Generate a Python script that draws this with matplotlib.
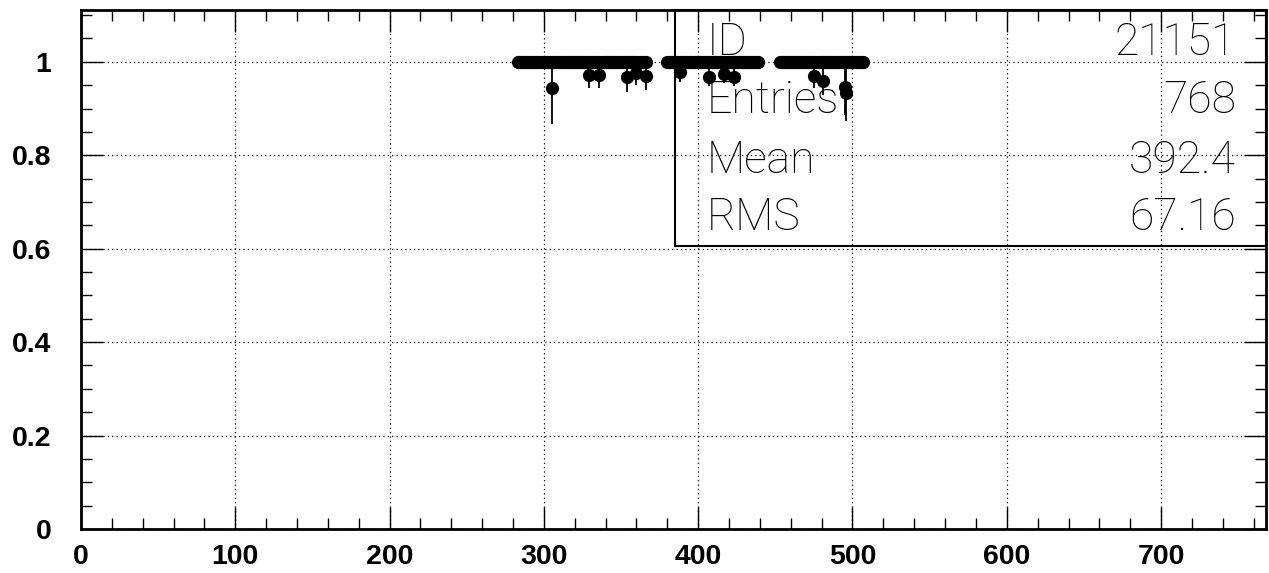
import matplotlib
matplotlib.use("Agg")
import matplotlib.pyplot as plt
import numpy as np
from matplotlib.patches import Rectangle
from matplotlib.ticker import FixedLocator, MultipleLocator

# bins where the efficiency is exactly 1: (first bin, last bin)
full_runs = [(283, 366), (380, 439), (453, 507)]

# bins below 1
low_x = [305, 329, 336, 354, 359.5, 366, 388.5, 407, 417, 423.5, 475, 481, 495, 496]
low_y = [0.944, 0.972, 0.972, 0.968, 0.976, 0.970, 0.978, 0.968, 0.974, 0.968,
         0.970, 0.959, 0.946, 0.934]
low_err_dn = [0.078, 0.028, 0.028, 0.032, 0.025, 0.030, 0.021, 0.020, 0.020, 0.020,
              0.025, 0.030, 0.060, 0.060]
low_err_up = [0.050, 0.020, 0.020, 0.022, 0.018, 0.020, 0.015, 0.020, 0.018, 0.020,
              0.020, 0.025, 0.045, 0.050]

stat_names = ["ID", "Entries", "Mean", "RMS"]
stat_values = ["21151", "768", "392.4", "67.16"]
stat_rows = [0.913, 0.8015, 0.686, 0.576]

x_ticks = [0, 100, 200, 300, 400, 500, 600, 700]
y_ticks = [0, 0.2, 0.4, 0.6, 0.8, 1.0]
y_tick_labels = ["0", "0.2", "0.4", "0.6", "0.8", "1"]

W, H = 1269, 573
fig = plt.figure(figsize=(W / 100, H / 100), dpi=100)
ax = fig.add_axes([81 / W, 44 / H, 1185 / W, 519 / H])

ones_x = np.concatenate([np.arange(a, b + 1) for a, b in full_runs])
ax.plot(ones_x, np.ones_like(ones_x, dtype=float), "o", color="black",
        ms=9.5, mew=0, zorder=5)
ax.errorbar(low_x, low_y, yerr=[low_err_dn, low_err_up], fmt="o", color="black",
            ms=9.5, mew=0, elinewidth=1.3, capsize=0, zorder=5)

ax.set_xlim(0, 768)
ax.set_ylim(0, 1.111)

ax.xaxis.set_major_locator(FixedLocator(x_ticks))
ax.xaxis.set_minor_locator(MultipleLocator(20))
ax.set_yticks(y_ticks)
ax.set_yticklabels(y_tick_labels)
ax.yaxis.set_minor_locator(MultipleLocator(0.05))

ax.grid(which="major", color="black", linestyle=(0, (1, 2.5)), lw=0.9)
for s in ax.spines.values():
    s.set_linewidth(2)

ax.tick_params(which="both", direction="in", top=True, right=True, width=1,
               color="black")
ax.tick_params(which="major", length=16)
ax.tick_params(which="minor", length=8)
ax.tick_params(axis="x", pad=11)
ax.tick_params(axis="y", pad=21.5)
for lab in ax.get_xticklabels() + ax.get_yticklabels():
    lab.set_fontfamily("Liberation Sans")
    lab.set_fontweight("bold")
    lab.set_fontsize(20.5)

# stats box
ax.add_patch(Rectangle((0.501, 0.5453), 0.499, 0.4547, transform=ax.transAxes,
                       fill=False, lw=1.5, edgecolor="black", clip_on=False, zorder=2))
for name, val, yy in zip(stat_names, stat_values, stat_rows):
    ax.text(0.528, yy, name, transform=ax.transAxes, fontsize=32,
            family=["Roboto", "DejaVu Sans"], fontweight=100, va="baseline",
            ha="left", zorder=3)
    ax.text(0.9747, yy, val, transform=ax.transAxes, fontsize=32,
            family=["Roboto", "DejaVu Sans"], fontweight=100, va="baseline",
            ha="right", zorder=3)

fig.savefig("out.png", dpi=100)
